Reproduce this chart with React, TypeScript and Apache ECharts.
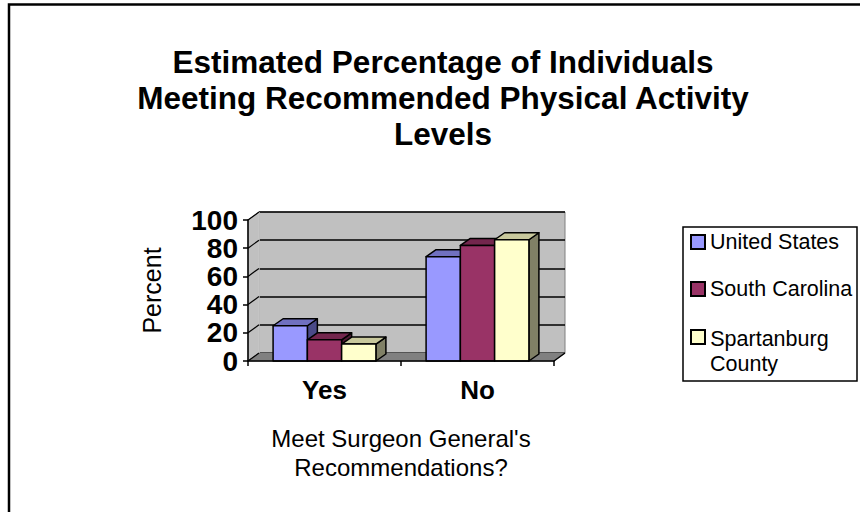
import React, { useEffect, useRef } from "react";
import * as echarts from "echarts";

// ---- data ----
const categories = ["Yes", "No"];
const seriesNames = ["United States", "South Carolina", "Spartanburg County"];
const unitedStates = [25, 74];
const southCarolina = [15, 82];
const spartanburg = [12, 86];
const yMin = 0;
const yMax = 100;
const yInterval = 20;

const titleLines = [
  "Estimated Percentage of Individuals",
  "Meeting Recommended Physical Activity",
  "Levels",
];
const xAxisName = "Meet Surgeon General's\nRecommendations?";
const yAxisName = "Percent";

// ---- styles ----
const FONT = "'Liberation Sans', Arial, Helvetica, sans-serif";
const PALETTE = [
  { front: "#9999FF", top: "#7070C0", side: "#4A4A88" },
  { front: "#993366", top: "#73264D", side: "#4D1A33" },
  { front: "#FFFFCC", top: "#C8C89C", side: "#808066" },
];
const WALL_DX = 11;
const WALL_DY = -8;
const BAR_DX = 10;
const BAR_DY = -7;
const BAR_FRAC = 0.224;

export default function App() {
  const ref = useRef<HTMLDivElement>(null);

  useEffect(() => {
    if (!ref.current) return;
    const chart = echarts.init(ref.current, null, { renderer: "svg" });

    const values = [unitedStates, southCarolina, spartanburg];

    const makeBar = (si: number) => (params: any, api: any) => {
      const cat = api.value(0);
      const v = api.value(1);
      const base = api.coord([cat, 0]);
      const top = api.coord([cat, v]);
      const bw = api.size([1, 0])[0];
      const barW = bw * BAR_FRAC;
      const x0 = base[0] - 1.5 * barW + si * barW;
      const x1 = x0 + barW;
      const yb = base[1];
      const yt = top[1];
      const c = PALETTE[si];
      const stroke = { stroke: "#000", lineWidth: 1.5, lineJoin: "round" };
      return {
        type: "group",
        children: [
          {
            type: "polygon",
            shape: { points: [[x1, yt], [x1 + BAR_DX, yt + BAR_DY], [x1 + BAR_DX, yb + BAR_DY], [x1, yb]] },
            style: { fill: c.side, ...stroke },
          },
          {
            type: "polygon",
            shape: { points: [[x0, yt], [x0 + BAR_DX, yt + BAR_DY], [x1 + BAR_DX, yt + BAR_DY], [x1, yt]] },
            style: { fill: c.top, ...stroke },
          },
          {
            type: "rect",
            shape: { x: x0, y: yt, width: barW, height: yb - yt },
            style: { fill: c.front, ...stroke },
          },
        ],
      };
    };

    const frameRender = (params: any, api: any) => {
      const c0 = api.coord([0, yMin]);
      const bw = api.size([1, 0])[0];
      const xl = c0[0] - bw / 2;
      const xr = xl + bw * categories.length;
      const y0 = c0[1];
      const yTop = api.coord([0, yMax])[1];
      const children: any[] = [
        {
          type: "polygon",
          shape: { points: [[xl, yTop], [xl + WALL_DX, yTop + WALL_DY], [xl + WALL_DX, y0 + WALL_DY], [xl, y0]] },
          style: { fill: "#C0C0C0", stroke: "#808080", lineWidth: 1 },
        },
        {
          type: "polygon",
          shape: { points: [[xl, y0], [xr, y0], [xr + WALL_DX, y0 + WALL_DY], [xl + WALL_DX, y0 + WALL_DY]] },
          style: { fill: "#808080", stroke: "#808080", lineWidth: 1 },
        },
        {
          type: "line",
          shape: { x1: xr, y1: y0, x2: xr + WALL_DX, y2: y0 + WALL_DY },
          style: { stroke: "#000", lineWidth: 1.5 },
        },
        {
          type: "line",
          shape: { x1: xl + WALL_DX, y1: yTop + WALL_DY, x2: xl + WALL_DX, y2: y0 + WALL_DY },
          style: { stroke: "#E8E8E8", lineWidth: 1 },
        },
      ];
      for (let t = yMin; t <= yMax; t += yInterval) {
        const yt = api.coord([0, t])[1];
        children.push({
          type: "line",
          shape: { x1: xl, y1: yt, x2: xl + WALL_DX, y2: yt + WALL_DY },
          style: { stroke: "#000", lineWidth: 1.2 },
        });
      }
      return { type: "group", children };
    };

    const legendText = { fontFamily: FONT, fontSize: 21.5, color: "#000", lineHeight: 25 };

    const option: any = {
      animation: false,
      title: {
        text: titleLines.join("\n"),
        left: 443,
        top: 44,
        textAlign: "center",
        padding: 0,
        textStyle: {
          fontFamily: FONT,
          fontSize: 31.5,
          fontWeight: "bold",
          color: "#000",
          lineHeight: 36,
        },
      },
      grid: [
        { left: 248, top: 220, right: 306, bottom: 151, containLabel: false },
        {
          left: 259,
          top: 212,
          right: 295,
          bottom: 159,
          show: true,
          backgroundColor: "#C0C0C0",
          borderColor: "#808080",
          borderWidth: 1,
        },
      ],
      xAxis: [
        {
          type: "category",
          gridIndex: 0,
          data: categories,
          z: 5,
          axisLine: { show: true, lineStyle: { color: "#000", width: 1.5 } },
          axisTick: { show: true, length: 5, lineStyle: { color: "#000", width: 1.5 } },
          axisLabel: {
            margin: 16,
            fontFamily: FONT,
            fontSize: 26,
            fontWeight: "bold",
            color: "#000",
          },
          name: xAxisName,
          nameLocation: "middle",
          nameGap: 63,
          nameTextStyle: {
            fontFamily: FONT,
            fontSize: 24,
            color: "#000",
            lineHeight: 29,
          },
        },
        { type: "category", gridIndex: 1, data: categories, show: false },
      ],
      yAxis: [
        {
          type: "value",
          gridIndex: 0,
          min: yMin,
          max: yMax,
          interval: yInterval,
          z: 5,
          axisLine: { show: true, lineStyle: { color: "#000", width: 1.5 } },
          axisTick: { show: true, length: 5, lineStyle: { color: "#000", width: 1.5 } },
          splitLine: { show: false },
          axisLabel: {
            margin: 10,
            fontFamily: FONT,
            fontSize: 28,
            fontWeight: "bold",
            color: "#000",
          },
          name: yAxisName,
          nameLocation: "middle",
          nameGap: 84,
          nameTextStyle: { fontFamily: FONT, fontSize: 25, color: "#000" },
        },
        {
          type: "value",
          gridIndex: 1,
          min: yMin,
          max: yMax,
          interval: yInterval,
          axisLine: { show: false },
          axisTick: { show: false },
          axisLabel: { show: false },
          splitLine: { show: true, lineStyle: { color: "#000", width: 1.5 } },
        },
      ],
      legend: [
        {
          orient: "vertical",
          left: 690,
          top: 229.5,
          padding: 0,
          itemGap: 22,
          itemWidth: 14,
          itemHeight: 14,
          icon: "rect",
          data: [seriesNames[0], seriesNames[1]],
          itemStyle: { borderColor: "#000", borderWidth: 2 },
          textStyle: legendText,
        },
        {
          orient: "vertical",
          left: 690,
          top: 299.5,
          padding: 0,
          itemWidth: 14,
          itemHeight: 14,
          icon: "rect",
          data: [seriesNames[2]],
          formatter: (name: string) => {
            const parts = name.split(" ");
            const first = parts.shift();
            return "{sp| }{a|" + first + "}\n{a|" + parts.join(" ") + "}";
          },
          itemStyle: { borderColor: "#000", borderWidth: 2 },
          textStyle: {
            ...legendText,
            rich: {
              sp: { fontSize: 1, lineHeight: 50 },
              a: { ...legendText, verticalAlign: "bottom" },
            },
          },
        },
      ],
      graphic: [
        {
          type: "rect",
          x: 683,
          y: 227,
          shape: { width: 174, height: 154 },
          style: { fill: "none", stroke: "#000", lineWidth: 1.5 },
          z: 10,
        },
        {
          type: "rect",
          x: 9,
          y: 4.5,
          shape: { width: 1000, height: 1000 },
          style: { fill: "none", stroke: "#000", lineWidth: 2.5 },
          z: 10,
        },
      ],
      series: [
        {
          type: "custom",
          name: "frame",
          xAxisIndex: 0,
          yAxisIndex: 0,
          z: 1,
          silent: true,
          renderItem: frameRender,
          data: [[0, 0]],
          encode: { x: 0, y: 1 },
        },
        ...seriesNames.map((name, si) => ({
          type: "custom",
          name,
          xAxisIndex: 0,
          yAxisIndex: 0,
          z: 2 + si,
          itemStyle: { color: PALETTE[si].front },
          renderItem: makeBar(si),
          data: values[si].map((v, i) => [i, v]),
          encode: { x: 0, y: 1 },
        })),
      ],
    };

    chart.setOption(option);
    return () => chart.dispose();
  }, []);

  return (
    <div
      ref={ref}
      style={{ position: "fixed", left: 0, top: 0, width: 860, height: 512, background: "#fff" }}
    />
  );
}
